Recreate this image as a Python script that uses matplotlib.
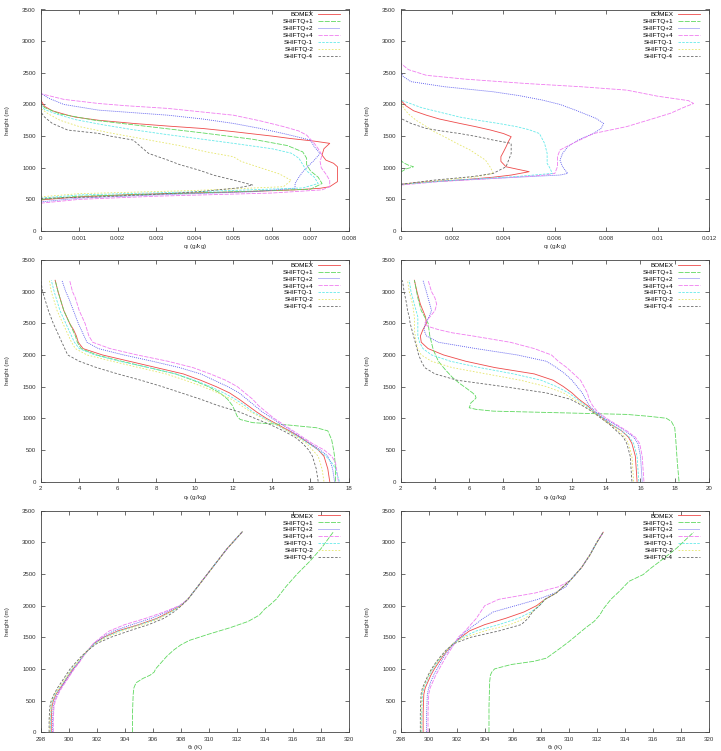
import matplotlib
matplotlib.use("Agg")
import matplotlib.pyplot as plt
from matplotlib.ticker import FixedLocator, FuncFormatter

# ---------------- data ----------------
SERIES = ["BOMEX", "SHIFTQ+1", "SHIFTQ+2", "SHIFTQ+4", "SHIFTQ-1", "SHIFTQ-2", "SHIFTQ-4"]

# Panel 1: q_l (left)
P1_BOMEX_Z = [490, 540, 580, 620, 650, 675, 700, 780, 900, 1015, 1070, 1120, 1200, 1300, 1385, 1420, 1460, 1500, 1570, 1620, 1658, 1700, 1750, 1800, 1830, 1900, 1970, 2070]
P1_BOMEX_V = [0, 0.001, 0.0025, 0.0052, 0.0066, 0.00725, 0.0075, 0.0077, 0.0077, 0.0077, 0.0076, 0.0074, 0.0073, 0.00735, 0.0075, 0.0071, 0.0065, 0.006, 0.005, 0.0042, 0.0033, 0.0024, 0.0015, 0.0009, 0.0007, 0.0003, 0.0001, 0]
P1_P1_Z = [500, 550, 600, 660, 750, 850, 950, 1050, 1150, 1250, 1350, 1450, 1550, 1650, 1750, 1850, 1950, 2010]
P1_P1_V = [0, 0.001, 0.004, 0.007, 0.0073, 0.0072, 0.007, 0.0069, 0.0069, 0.0068, 0.0064, 0.0055, 0.0042, 0.0028, 0.0014, 0.0005, 0.0001, 0]
P1_P2_Z = [460, 520, 570, 620, 675, 750, 850, 936, 1000, 1120, 1226, 1330, 1437, 1540, 1620, 1700, 1770, 1830, 1910, 2000, 2100, 2180]
P1_P2_V = [0, 0.001, 0.003, 0.0055, 0.0066, 0.0066, 0.0067, 0.0068, 0.0069, 0.0071, 0.00725, 0.0071, 0.007, 0.0063, 0.0057, 0.005, 0.0042, 0.0033, 0.0015, 0.0006, 0.0002, 0]
P1_P4_Z = [440, 500, 550, 600, 650, 700, 800, 900, 1000, 1100, 1200, 1300, 1385, 1450, 1515, 1580, 1650, 1740, 1830, 1880, 1937, 1980, 2015, 2080, 2170]
P1_P4_V = [0, 0.001, 0.003, 0.006, 0.0073, 0.0075, 0.0075, 0.0074, 0.00728, 0.00725, 0.0073, 0.0072, 0.0071, 0.007, 0.0069, 0.0067, 0.0063, 0.0057, 0.005, 0.0042, 0.0033, 0.0022, 0.0015, 0.0006, 0]
P1_M1_Z = [520, 570, 620, 680, 750, 850, 950, 1050, 1150, 1230, 1300, 1385, 1450, 1530, 1600, 1680, 1760, 1850, 1920, 1990]
P1_M1_V = [0, 0.001, 0.004, 0.0068, 0.0072, 0.0071, 0.0069, 0.0068, 0.0067, 0.0065, 0.006, 0.005, 0.0042, 0.0032, 0.0024, 0.0016, 0.0009, 0.0004, 0.0001, 0]
P1_M2_Z = [540, 590, 640, 700, 800, 900, 1000, 1100, 1174, 1250, 1350, 1450, 1550, 1650, 1750, 1850, 1937]
P1_M2_V = [0, 0.001, 0.004, 0.0063, 0.0065, 0.0062, 0.0057, 0.0052, 0.005, 0.0043, 0.0036, 0.0027, 0.0018, 0.001, 0.0005, 0.0002, 0]
P1_M4_Z = [515, 540, 580, 620, 680, 726, 805, 880, 963, 1050, 1120, 1226, 1330, 1437, 1500, 1542, 1595, 1700, 1800, 1885]
P1_M4_V = [0, 0.0015, 0.003, 0.0041, 0.0051, 0.0055, 0.005, 0.0045, 0.0041, 0.0036, 0.0033, 0.0028, 0.0026, 0.0024, 0.0018, 0.0015, 0.0007, 0.0003, 0.0001, 0]

# Panel 2: q_l (right)
P2_BOMEX_Z = [737, 770, 805, 850, 884, 937, 980, 1015, 1100, 1174, 1250, 1330, 1420, 1490, 1540, 1595, 1650, 1700, 1770, 1830, 1900, 1980, 2070]
P2_BOMEX_V = [0, 0.0008, 0.0023, 0.0036, 0.0043, 0.005, 0.0045, 0.0041, 0.0039, 0.0039, 0.004, 0.0041, 0.0042, 0.0043, 0.004, 0.0035, 0.0029, 0.0023, 0.0015, 0.001, 0.0005, 0.0002, 0]
P2_P1_Z = [930, 980, 1015, 1040, 1080, 1120]
P2_P1_V = [0, 0.0002, 0.0005, 0.0003, 0.0001, 0]
P2_P2_Z = [737, 790, 830, 884, 910, 1015, 1120, 1226, 1330, 1437, 1540, 1620, 1700, 1780, 1910, 2000, 2070, 2140, 2200, 2280, 2360, 2440, 2515]
P2_P2_V = [0, 0.0015, 0.0036, 0.0062, 0.0065, 0.0063, 0.0062, 0.0063, 0.0065, 0.0069, 0.0075, 0.0078, 0.0079, 0.0076, 0.0068, 0.0062, 0.0055, 0.0046, 0.0036, 0.0017, 0.0004, 0.0001, 0]
P2_P4_Z = [726, 780, 830, 880, 910, 1015, 1174, 1280, 1385, 1540, 1650, 1760, 1860, 1950, 2015, 2060, 2130, 2226, 2280, 2330, 2400, 2460, 2550, 2650]
P2_P4_V = [0, 0.0015, 0.0036, 0.0055, 0.006, 0.0061, 0.0061, 0.0062, 0.0067, 0.0075, 0.0088, 0.0097, 0.0105, 0.011, 0.0114, 0.0112, 0.01, 0.0088, 0.007, 0.0049, 0.0025, 0.001, 0.0003, 0]
P2_M1_Z = [737, 800, 860, 910, 1000, 1068, 1226, 1385, 1540, 1600, 1650, 1700, 1750, 1800, 1860, 1950, 2070]
P2_M1_V = [0, 0.002, 0.0045, 0.0059, 0.0058, 0.0057, 0.0057, 0.0056, 0.0054, 0.005, 0.0045, 0.0038, 0.003, 0.0023, 0.0017, 0.0008, 0]
P2_M2_Z = [737, 800, 860, 910, 1000, 1120, 1200, 1280, 1380, 1490, 1570, 1650, 1750, 1850, 1950, 2070]
P2_M2_V = [0, 0.0015, 0.003, 0.0036, 0.0035, 0.0033, 0.003, 0.0027, 0.0022, 0.0017, 0.0013, 0.001, 0.0006, 0.0003, 0.0001, 0]
P2_M4_Z = [737, 800, 860, 910, 1015, 1120, 1226, 1300, 1385, 1437, 1490, 1540, 1580, 1620, 1700, 1780]
P2_M4_V = [0, 0.0012, 0.0028, 0.0036, 0.0041, 0.0042, 0.0043, 0.0043, 0.0043, 0.0036, 0.003, 0.0023, 0.0016, 0.001, 0.0004, 0]

# Panel 3: q_t (left)
P3_Z = [0, 100, 200, 300, 400, 500, 600, 700, 800, 900, 1000, 1100, 1200, 1300, 1400, 1500, 1600, 1700, 1800, 1900, 2000, 2100, 2200, 2300, 2400, 2500, 2700, 2900, 3000, 3180]
P3_BOMEX_V = [17.0, 16.95, 16.9, 16.8, 16.7, 16.4, 15.95, 15.45, 14.9, 14.3, 13.7, 13.2, 12.75, 12.3, 11.8, 11.1, 10.3, 9.4, 8.0, 6.6, 5.2, 4.2, 3.95, 3.85, 3.7, 3.5, 3.2, 3.0, 2.9, 2.75]
P3_P2_V = [17.25, 17.2, 17.15, 17.05, 16.9, 16.5, 16.0, 15.5, 15.0, 14.5, 14.0, 13.5, 13.1, 12.7, 12.3, 11.7, 11.0, 10.3, 9.2, 7.8, 6.3, 5.0, 4.4, 4.25, 4.1, 3.95, 3.7, 3.45, 3.3, 3.1]
P3_P4_V = [17.45, 17.4, 17.35, 17.3, 17.1, 16.7, 16.1, 15.6, 15.1, 14.6, 14.1, 13.7, 13.3, 13.0, 12.6, 12.2, 11.6, 10.8, 9.9, 8.6, 7.0, 5.6, 4.7, 4.5, 4.4, 4.3, 4.0, 3.8, 3.65, 3.5]
P3_M1_V = [17.5, 17.4, 17.3, 17.1, 16.8, 16.4, 15.9, 15.4, 14.8, 14.2, 13.6, 13.0, 12.6, 12.1, 11.5, 10.8, 10.0, 9.0, 7.6, 6.1, 4.8, 4.0, 3.75, 3.6, 3.45, 3.3, 3.0, 2.8, 2.7, 2.55]
P3_M2_V = [16.7, 16.65, 16.6, 16.5, 16.4, 16.1, 15.8, 15.3, 14.8, 14.2, 13.5, 12.9, 12.4, 11.9, 11.2, 10.4, 9.5, 8.5, 7.1, 5.7, 4.4, 3.8, 3.6, 3.45, 3.3, 3.15, 2.85, 2.65, 2.55, 2.45]
P3_M4_V = [16.4, 16.35, 16.3, 16.2, 16.1, 15.9, 15.6, 15.2, 14.6, 13.9, 13.1, 12.3, 11.2, 10.3, 9.3, 8.3, 7.2, 6.0, 4.9, 4.0, 3.4, 3.25, 3.1, 2.95, 2.8, 2.65, 2.4, 2.2, 2.1, 2.0]
P3_P1_Z = [0, 200, 400, 500, 660, 800, 850, 900, 930, 980, 1030, 1100, 1200, 1300, 1400, 1500, 1600, 1700, 1800, 1900, 2000, 2100, 2200, 2300, 2400, 2500, 2700, 2900, 3000, 3180]
P3_P1_V = [17.3, 17.3, 17.25, 17.2, 17.1, 16.9, 16.3, 14.6, 13.0, 12.35, 12.2, 12.1, 11.95, 11.7, 11.3, 10.7, 9.9, 9.0, 7.6, 6.2, 4.9, 4.1, 3.9, 3.8, 3.65, 3.5, 3.2, 3.0, 2.9, 2.75]

# Panel 4: q_t (right)
P4_Z = [0, 200, 400, 600, 700, 800, 900, 1000, 1100, 1200, 1300, 1400, 1500, 1600, 1700, 1800, 1900, 2000, 2100, 2200, 2300, 2400, 2500, 2600, 2700, 2800, 3000, 3180]
P4_BOMEX_V = [15.8, 15.75, 15.7, 15.5, 15.3, 14.9, 14.3, 13.8, 13.3, 12.9, 12.4, 12.0, 11.5, 10.9, 9.8, 7.5, 5.8, 4.5, 3.6, 3.2, 3.15, 3.3, 3.5, 3.45, 3.3, 3.15, 2.95, 2.8]
P4_P2_V = [16.1, 16.05, 16.0, 15.85, 15.6, 15.1, 14.5, 13.9, 13.4, 13.0, 12.8, 12.6, 12.3, 12.0, 11.6, 11.1, 10.5, 8.8, 6.4, 4.2, 3.5, 3.35, 3.45, 3.65, 3.8, 3.7, 3.5, 3.3]
P4_M1_V = [15.9, 15.85, 15.8, 15.6, 15.35, 14.9, 14.3, 13.8, 13.3, 12.8, 12.3, 11.8, 11.1, 10.2, 8.6, 6.6, 4.9, 3.8, 3.3, 3.1, 3.0, 3.0, 3.0, 3.0, 2.9, 2.8, 2.6, 2.5]
P4_M2_V = [15.6, 15.55, 15.5, 15.3, 15.1, 14.7, 14.2, 13.7, 13.2, 12.7, 12.1, 11.5, 10.5, 9.0, 7.0, 5.0, 3.8, 3.2, 3.0, 2.9, 2.85, 2.8, 2.8, 2.8, 2.75, 2.7, 2.5, 2.4]
P4_M4_V = [15.5, 15.45, 15.4, 15.2, 15.0, 14.6, 14.2, 13.7, 13.2, 12.6, 11.9, 10.5, 8.0, 5.3, 4.0, 3.4, 3.2, 3.05, 2.95, 2.85, 2.75, 2.65, 2.55, 2.5, 2.4, 2.35, 2.2, 2.1]
P4_P4_Z = [0, 200, 400, 600, 700, 800, 900, 1000, 1100, 1200, 1300, 1400, 1500, 1600, 1700, 1800, 1900, 2000, 2100, 2200, 2300, 2350, 2400, 2450, 2500, 2600, 2700, 2800, 2900, 3000, 3180]
P4_P4_V = [16.2, 16.15, 16.1, 15.95, 15.7, 15.2, 14.6, 14.0, 13.5, 13.2, 13.0, 12.9, 12.7, 12.5, 12.1, 11.7, 11.2, 10.8, 9.8, 8.4, 6.2, 5.0, 4.2, 3.6, 3.4, 3.7, 4.0, 4.1, 4.0, 3.8, 3.6]
P4_P1_Z = [0, 300, 500, 700, 850, 900, 950, 1000, 1030, 1060, 1086, 1112, 1140, 1165, 1200, 1243, 1290, 1322, 1360, 1400, 1480, 1558, 1650, 1768, 1900, 2083, 2300, 2500, 2700, 2900, 3180]
P4_P1_V = [18.25, 18.15, 18.1, 18.05, 18.0, 17.9, 17.8, 17.5, 16.5, 15.2, 11.3, 7.4, 6.4, 6.0, 6.05, 6.1, 6.3, 6.4, 6.35, 6.2, 5.8, 5.4, 5.0, 4.6, 4.2, 3.9, 3.7, 3.6, 3.2, 3.0, 2.8]

# Panel 5: theta_l (left)
P5_Z = [0, 200, 400, 500, 600, 700, 800, 900, 1000, 1100, 1200, 1300, 1400, 1500, 1600, 1700, 1800, 1900, 2000, 2100, 2300, 2500, 2700, 2900, 3170]
P5_BOMEX_V = [298.75, 298.75, 298.8, 298.9, 299.1, 299.4, 299.7, 300.0, 300.3, 300.7, 301.0, 301.4, 301.8, 302.5, 303.5, 305.0, 306.3, 307.2, 308.0, 308.5, 309.2, 309.9, 310.6, 311.3, 312.4]
P5_P2_V = [298.85, 298.85, 298.9, 299.0, 299.2, 299.45, 299.75, 300.05, 300.35, 300.7, 301.0, 301.4, 301.8, 302.4, 303.2, 304.5, 305.9, 307.0, 307.95, 308.5, 309.2, 309.9, 310.6, 311.3, 312.4]
P5_P4_V = [298.9, 298.9, 298.95, 299.05, 299.25, 299.5, 299.8, 300.1, 300.4, 300.75, 301.05, 301.4, 301.75, 302.3, 302.9, 304.0, 305.5, 306.8, 307.9, 308.5, 309.2, 309.9, 310.6, 311.3, 312.4]
P5_M1_V = [298.7, 298.7, 298.75, 298.85, 299.05, 299.35, 299.65, 299.95, 300.25, 300.65, 301.0, 301.4, 301.85, 302.6, 303.6, 305.1, 306.4, 307.3, 308.0, 308.5, 309.2, 309.9, 310.6, 311.3, 312.4]
P5_M2_V = [298.65, 298.65, 298.7, 298.8, 299.0, 299.3, 299.6, 299.9, 300.2, 300.6, 300.95, 301.4, 301.9, 302.7, 303.8, 305.3, 306.5, 307.3, 308.0, 308.5, 309.2, 309.9, 310.6, 311.3, 312.4]
P5_M4_V = [298.6, 298.6, 298.65, 298.75, 298.95, 299.2, 299.5, 299.8, 300.1, 300.5, 300.9, 301.4, 302.0, 303.0, 304.3, 305.7, 306.8, 307.5, 308.05, 308.5, 309.2, 309.9, 310.6, 311.3, 312.4]
P5_P1_Z = [0, 300, 600, 700, 780, 850, 900, 950, 1000, 1100, 1200, 1300, 1380, 1450, 1550, 1650, 1750, 1850, 1950, 2000, 2100, 2300, 2500, 2700, 2900, 3170]
P5_P1_V = [304.55, 304.55, 304.6, 304.65, 304.8, 305.3, 305.8, 306.1, 306.2, 306.6, 307.0, 307.5, 308.0, 308.6, 310.0, 311.5, 312.8, 313.6, 314.0, 314.3, 314.8, 315.5, 316.3, 317.2, 318.0, 318.9]

# Panel 6: theta_l (right)
P6_Z = [0, 300, 600, 700, 800, 900, 1000, 1100, 1200, 1300, 1400, 1500, 1600, 1700, 1800, 1900, 2000, 2100, 2200, 2300, 2400, 2600, 2800, 3000, 3160]
P6_BOMEX_V = [299.6, 299.6, 299.65, 299.75, 299.95, 300.15, 300.4, 300.7, 301.0, 301.35, 301.75, 302.3, 302.9, 304.0, 305.5, 306.8, 307.7, 308.3, 309.1, 309.6, 310.1, 310.9, 311.5, 312.0, 312.45]
P6_P2_V = [299.85, 299.85, 299.9, 300.0, 300.15, 300.35, 300.6, 300.85, 301.1, 301.45, 301.8, 302.2, 302.7, 303.3, 303.9, 304.6, 306.2, 307.8, 309.0, 309.8, 310.1, 310.9, 311.5, 312.0, 312.45]
P6_P4_V = [299.95, 299.95, 300.0, 300.1, 300.3, 300.5, 300.75, 301.0, 301.25, 301.55, 301.85, 302.1, 302.6, 303.0, 303.4, 303.7, 304.0, 305.0, 307.6, 309.3, 310.1, 310.9, 311.5, 312.0, 312.45]
P6_M1_V = [299.5, 299.5, 299.55, 299.65, 299.85, 300.05, 300.3, 300.6, 300.95, 301.3, 301.75, 302.4, 303.4, 305.0, 306.4, 307.3, 307.9, 308.3, 309.1, 309.6, 310.1, 310.9, 311.5, 312.0, 312.45]
P6_M2_V = [299.45, 299.45, 299.5, 299.6, 299.8, 300.0, 300.25, 300.55, 300.9, 301.3, 301.75, 302.6, 304.0, 305.8, 306.9, 307.4, 307.8, 308.3, 309.1, 309.6, 310.1, 310.9, 311.5, 312.0, 312.45]
P6_M4_V = [299.4, 299.4, 299.45, 299.55, 299.75, 299.95, 300.2, 300.5, 300.85, 301.25, 301.8, 303.0, 305.0, 306.6, 307.1, 307.4, 307.9, 308.3, 309.1, 309.6, 310.1, 310.9, 311.5, 312.0, 312.45]
P6_P1_Z = [0, 400, 800, 900, 950, 1000, 1030, 1070, 1120, 1170, 1250, 1330, 1430, 1540, 1650, 1750, 1850, 1960, 2100, 2225, 2385, 2490, 2600, 2700, 2910, 3160]
P6_P1_V = [304.3, 304.3, 304.35, 304.4, 304.5, 304.7, 305.2, 305.9, 307.5, 308.4, 308.9, 309.4, 310.0, 310.6, 311.2, 311.8, 312.2, 312.5, 313.0, 313.6, 314.3, 315.3, 315.9, 316.5, 317.7, 318.9]

X_TICKS = [
    [0, 0.001, 0.002, 0.003, 0.004, 0.005, 0.006, 0.007, 0.008],
    [0, 0.002, 0.004, 0.006, 0.008, 0.01, 0.012],
    [2, 4, 6, 8, 10, 12, 14, 16, 18],
    [2, 4, 6, 8, 10, 12, 14, 16, 18, 20],
    [298, 300, 302, 304, 306, 308, 310, 312, 314, 316, 318, 320],
    [298, 300, 302, 304, 306, 308, 310, 312, 314, 316, 318, 320],
]
Y_TICKS = [0, 500, 1000, 1500, 2000, 2500, 3000, 3500]
X_LABELS = ["q$_l$ (g/kg)", "q$_l$ (g/kg)", "q$_t$ (g/kg)", "q$_t$ (g/kg)", "θ$_l$ (K)", "θ$_l$ (K)"]
Y_LABEL = "height (m)"

PANELS = [
    [(P1_BOMEX_V, P1_BOMEX_Z), (P1_P1_V, P1_P1_Z), (P1_P2_V, P1_P2_Z), (P1_P4_V, P1_P4_Z),
     (P1_M1_V, P1_M1_Z), (P1_M2_V, P1_M2_Z), (P1_M4_V, P1_M4_Z)],
    [(P2_BOMEX_V, P2_BOMEX_Z), (P2_P1_V, P2_P1_Z), (P2_P2_V, P2_P2_Z), (P2_P4_V, P2_P4_Z),
     (P2_M1_V, P2_M1_Z), (P2_M2_V, P2_M2_Z), (P2_M4_V, P2_M4_Z)],
    [(P3_BOMEX_V, P3_Z), (P3_P1_V, P3_P1_Z), (P3_P2_V, P3_Z), (P3_P4_V, P3_Z),
     (P3_M1_V, P3_Z), (P3_M2_V, P3_Z), (P3_M4_V, P3_Z)],
    [(P4_BOMEX_V, P4_Z), (P4_P1_V, P4_P1_Z), (P4_P2_V, P4_Z), (P4_P4_V, P4_P4_Z),
     (P4_M1_V, P4_Z), (P4_M2_V, P4_Z), (P4_M4_V, P4_Z)],
    [(P5_BOMEX_V, P5_Z), (P5_P1_V, P5_P1_Z), (P5_P2_V, P5_Z), (P5_P4_V, P5_Z),
     (P5_M1_V, P5_Z), (P5_M2_V, P5_Z), (P5_M4_V, P5_Z)],
    [(P6_BOMEX_V, P6_Z), (P6_P1_V, P6_P1_Z), (P6_P2_V, P6_Z), (P6_P4_V, P6_Z),
     (P6_M1_V, P6_Z), (P6_M2_V, P6_Z), (P6_M4_V, P6_Z)],
]

# ---------------- style ----------------
COLORS = ["#ee4a4a", "#5fd85f", "#5a5aee", "#f07cf0", "#66eaea", "#e6e66a", "#6a6a6a"]
STYLES = ["-", (0, (6, 1.5)), (0, (1.2, 1.2)), (0, (5, 1.5)), (0, (3, 1.5)), (0, (2, 2)), (0, (3, 2))]

plt.rcParams["font.family"] = ["Liberation Sans", "DejaVu Sans"]
plt.rcParams["mathtext.default"] = "regular"

W, H = 721, 751
fig = plt.figure(figsize=(W / 100, H / 100), dpi=100)
fig.patch.set_facecolor("white")

col_left = [40.7, 400.7]
ax_w = 308.3
row_top = [9.5, 260.0, 510.7]
ax_h = 221.5

fmt = FuncFormatter(lambda v, p: "%g" % v)

for i, series in enumerate(PANELS):
    r, c = divmod(i, 2)
    x0 = col_left[c] / W
    y0 = 1 - (row_top[r] + ax_h) / H
    ax = fig.add_axes([x0, y0, ax_w / W, ax_h / H])
    for k, (vals, zs) in enumerate(series):
        ax.plot(vals, zs, color=COLORS[k], linestyle=STYLES[k], linewidth=0.6, label=SERIES[k])
    xt = X_TICKS[i]
    ax.set_xlim(xt[0], xt[-1])
    ax.set_ylim(0, 3500)
    ax.xaxis.set_major_locator(FixedLocator(xt))
    ax.yaxis.set_major_locator(FixedLocator(Y_TICKS))
    ax.xaxis.set_major_formatter(fmt)
    ax.yaxis.set_major_formatter(fmt)
    ax.tick_params(direction="in", length=3, width=0.5, top=True, right=True,
                   labelsize=4.4, pad=3.5, colors="#333333", labelcolor="#333333")
    for sp in ax.spines.values():
        sp.set_linewidth(0.6)
        sp.set_color("#444444")
    ax.set_xlabel(X_LABELS[i], fontsize=4.6, color="#333333")
    ax.xaxis.set_label_coords(0.5, -0.05)
    ax.set_ylabel(Y_LABEL, fontsize=4.6, color="#333333")
    ax.yaxis.set_label_coords(-0.1, 0.5)
    ax.legend(loc="upper right", bbox_to_anchor=(1 - 9 / ax_w, 1 - 2.5 / ax_h),
              frameon=False, markerfirst=False, fontsize=4.6, handlelength=3.4,
              handletextpad=0.8, labelspacing=0.22, borderpad=0, borderaxespad=0)

fig.savefig("out.png", dpi=100, facecolor="white")
